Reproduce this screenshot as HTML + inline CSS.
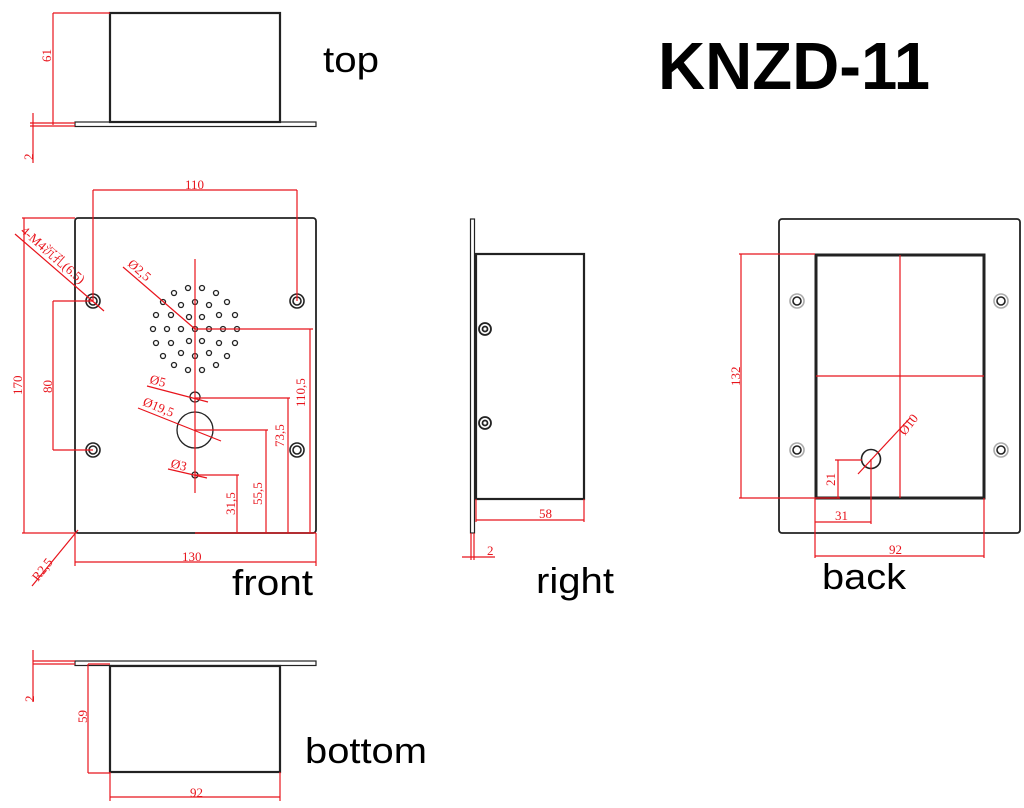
<!DOCTYPE html>
<html><head><meta charset="utf-8"><style>
html,body{margin:0;padding:0;background:#fff;}
svg{display:block;}
.r{stroke:#e8141c;stroke-width:1.2;fill:none;}
.rt{fill:#e8141c;font-family:"Liberation Serif","Noto Serif CJK SC",serif;font-size:13px;}
.k{stroke:#222;fill:none;}
.lbl{font-family:"Liberation Sans",sans-serif;font-size:36px;fill:#000;}
</style></head><body>
<svg width="1024" height="808" viewBox="0 0 1024 808" xmlns="http://www.w3.org/2000/svg">
<!-- TOP VIEW -->
<rect x="110" y="13" width="170" height="109" class="k" stroke-width="2.2"/>
<rect x="75" y="122" width="241" height="4.5" class="k" stroke-width="1.2"/>
<line x1="53" y1="13" x2="53" y2="125" class="r"/>
<line x1="53" y1="13" x2="110" y2="13" class="r"/>
<line x1="30" y1="123" x2="75" y2="123" class="r"/>
<line x1="30" y1="126" x2="75" y2="126" class="r"/>
<line x1="33" y1="113" x2="33" y2="163" class="r"/>
<text class="rt" transform="translate(51,62) rotate(-90)">61</text>
<text class="rt" transform="translate(33,160) rotate(-90)">2</text>
<text class="lbl" x="323" y="72" textLength="56" lengthAdjust="spacingAndGlyphs">top</text>
<text x="658" y="89" font-family="Liberation Sans,sans-serif" font-weight="bold" font-size="67" textLength="272" lengthAdjust="spacingAndGlyphs">KNZD-11</text>

<!-- FRONT VIEW -->
<rect x="75" y="218" width="241" height="315" rx="3" class="k" stroke-width="1.8"/>
<g class="k" stroke-width="1.6">
<circle cx="93" cy="301" r="7"/><circle cx="93" cy="301" r="4"/>
<circle cx="297" cy="301" r="7"/><circle cx="297" cy="301" r="4"/>
<circle cx="93" cy="450" r="7"/><circle cx="93" cy="450" r="4"/>
<circle cx="297" cy="450" r="7"/><circle cx="297" cy="450" r="4"/>
</g>
<g class="k" stroke-width="1.3">
<circle cx="188" cy="288" r="2.5"/><circle cx="202" cy="288" r="2.5"/><circle cx="174" cy="293" r="2.5"/><circle cx="216" cy="293" r="2.5"/>
<circle cx="163" cy="302" r="2.5"/><circle cx="181" cy="305" r="2.5"/><circle cx="195" cy="302" r="2.5"/><circle cx="209" cy="305" r="2.5"/><circle cx="227" cy="302" r="2.5"/>
<circle cx="156" cy="315" r="2.5"/><circle cx="171" cy="315" r="2.5"/><circle cx="189" cy="317" r="2.5"/><circle cx="202" cy="317" r="2.5"/><circle cx="219" cy="315" r="2.5"/><circle cx="235" cy="315" r="2.5"/>
<circle cx="153" cy="329" r="2.5"/><circle cx="167" cy="329" r="2.5"/><circle cx="181" cy="329" r="2.5"/><circle cx="195" cy="329" r="2.5"/><circle cx="209" cy="329" r="2.5"/><circle cx="223" cy="329" r="2.5"/><circle cx="237" cy="329" r="2.5"/>
<circle cx="156" cy="343" r="2.5"/><circle cx="171" cy="343" r="2.5"/><circle cx="189" cy="341" r="2.5"/><circle cx="202" cy="341" r="2.5"/><circle cx="219" cy="343" r="2.5"/><circle cx="235" cy="343" r="2.5"/>
<circle cx="163" cy="356" r="2.5"/><circle cx="181" cy="353" r="2.5"/><circle cx="195" cy="356" r="2.5"/><circle cx="209" cy="353" r="2.5"/><circle cx="227" cy="356" r="2.5"/>
<circle cx="174" cy="365" r="2.5"/><circle cx="216" cy="365" r="2.5"/><circle cx="188" cy="370" r="2.5"/><circle cx="202" cy="370" r="2.5"/>
<circle cx="195" cy="397" r="5"/>
<circle cx="195" cy="430" r="18"/>
<circle cx="195" cy="475" r="3"/>
</g>
<g class="r">
<line x1="93" y1="190" x2="297" y2="190"/><line x1="93" y1="190" x2="93" y2="301"/><line x1="297" y1="190" x2="297" y2="301"/>
<line x1="22" y1="218" x2="75" y2="218"/><line x1="22" y1="533" x2="75" y2="533"/><line x1="24" y1="218" x2="24" y2="533"/>
<line x1="53" y1="301" x2="93" y2="301"/><line x1="53" y1="450" x2="93" y2="450"/><line x1="53" y1="301" x2="53" y2="450"/>
<line x1="195" y1="259" x2="195" y2="493"/>
<line x1="15" y1="234" x2="104" y2="311"/>
<line x1="123" y1="267" x2="195" y2="329"/>
<line x1="195" y1="329" x2="313" y2="329"/><line x1="310" y1="329" x2="310" y2="533"/>
<line x1="147" y1="386" x2="208" y2="402"/>
<line x1="195" y1="398" x2="290" y2="398"/><line x1="288" y1="398" x2="288" y2="533"/>
<line x1="138" y1="408" x2="221" y2="441"/>
<line x1="195" y1="430" x2="268" y2="430"/><line x1="266" y1="430" x2="266" y2="533"/>
<line x1="168" y1="469" x2="207" y2="478"/>
<line x1="195" y1="475" x2="239" y2="475"/><line x1="237" y1="475" x2="237" y2="533"/>
<line x1="195" y1="533" x2="316" y2="533"/>
<line x1="75" y1="533" x2="75" y2="566"/><line x1="316" y1="533" x2="316" y2="566"/><line x1="75" y1="562" x2="316" y2="562"/>
<line x1="78" y1="530" x2="32" y2="586"/>
</g>
<text class="rt" x="185" y="189">110</text>
<text class="rt" transform="translate(22,395) rotate(-90)">170</text>
<text class="rt" transform="translate(52,393) rotate(-90)">80</text>
<text class="rt" transform="translate(20,232) rotate(41)">4-M4沉孔(6.5)</text>
<text class="rt" transform="translate(127,265) rotate(41)">Ø2,5</text>
<text class="rt" transform="translate(149,383) rotate(15)">Ø5</text>
<text class="rt" transform="translate(142,405) rotate(22)">Ø19,5</text>
<text class="rt" transform="translate(170,467) rotate(15)">Ø3</text>
<text class="rt" transform="translate(305,407) rotate(-90)">110,5</text>
<text class="rt" transform="translate(284,447) rotate(-90)">73,5</text>
<text class="rt" transform="translate(262,505) rotate(-90)">55,5</text>
<text class="rt" transform="translate(235,515) rotate(-90)">31,5</text>
<text class="rt" x="182" y="561">130</text>
<text class="rt" transform="translate(38,582) rotate(-52)">R2,5</text>
<text class="lbl" x="232" y="595" textLength="81" lengthAdjust="spacingAndGlyphs">front</text>

<!-- RIGHT VIEW -->
<rect x="470.5" y="219" width="4" height="314" class="k" stroke-width="1.2"/>
<rect x="476" y="254" width="108" height="245" class="k" stroke-width="2.2"/>
<g class="k" stroke-width="1.8"><circle cx="485" cy="329" r="6"/><circle cx="485" cy="329" r="2.5"/><circle cx="485" cy="423" r="6"/><circle cx="485" cy="423" r="2.5"/></g>
<g class="r">
<line x1="476" y1="520" x2="584" y2="520"/><line x1="584" y1="499" x2="584" y2="522"/><line x1="476" y1="499" x2="476" y2="522"/>
<line x1="471" y1="533" x2="471" y2="560"/><line x1="474" y1="533" x2="474" y2="560"/><line x1="462" y1="557" x2="495" y2="557"/>
</g>
<text class="rt" x="539" y="518">58</text>
<text class="rt" x="487" y="555">2</text>
<text class="lbl" x="536" y="593" textLength="78" lengthAdjust="spacingAndGlyphs">right</text>

<!-- BACK VIEW -->
<rect x="779" y="219" width="241" height="314" rx="3" class="k" stroke-width="1.8"/>
<rect x="816" y="255" width="168" height="243" class="k" stroke="#333" stroke-width="3"/>
<g stroke-width="1.6" fill="none">
<circle cx="797" cy="301" r="7" stroke="#aaa"/><circle cx="797" cy="301" r="4" stroke="#222"/>
<circle cx="1001" cy="301" r="7" stroke="#aaa"/><circle cx="1001" cy="301" r="4" stroke="#222"/>
<circle cx="797" cy="450" r="7" stroke="#aaa"/><circle cx="797" cy="450" r="4" stroke="#222"/>
<circle cx="1001" cy="450" r="7" stroke="#aaa"/><circle cx="1001" cy="450" r="4" stroke="#222"/>
</g>
<circle cx="871" cy="459" r="9.5" class="k" stroke-width="1.6"/>
<g class="r">
<line x1="900" y1="255" x2="900" y2="498"/><line x1="816" y1="376" x2="984" y2="376"/>
<line x1="739" y1="254" x2="815" y2="254"/><line x1="739" y1="498" x2="840" y2="498"/><line x1="741" y1="254" x2="741" y2="498"/>
<line x1="858" y1="474" x2="910" y2="418"/>
<line x1="835" y1="460" x2="862" y2="460"/><line x1="838" y1="460" x2="838" y2="498"/>
<line x1="815" y1="498" x2="815" y2="558"/><line x1="984" y1="498" x2="984" y2="558"/>
<line x1="815" y1="522" x2="871" y2="522"/><line x1="871" y1="459" x2="871" y2="524"/>
<line x1="815" y1="556" x2="984" y2="556"/>
</g>
<text class="rt" transform="translate(740,386) rotate(-90)">132</text>
<text class="rt" transform="translate(905,436) rotate(-52)">Ø10</text>
<text class="rt" transform="translate(835,486) rotate(-90)">21</text>
<text class="rt" x="835" y="520">31</text>
<text class="rt" x="889" y="554">92</text>
<text class="lbl" x="822" y="589" textLength="84" lengthAdjust="spacingAndGlyphs">back</text>

<!-- BOTTOM VIEW -->
<rect x="75" y="661" width="241" height="4.5" class="k" stroke-width="1.2"/>
<rect x="110" y="666" width="170" height="106" class="k" stroke-width="2.2"/>
<g class="r">
<line x1="33" y1="650" x2="33" y2="702"/><line x1="33" y1="661" x2="75" y2="661"/><line x1="33" y1="664" x2="75" y2="664"/>
<line x1="88" y1="664" x2="88" y2="773"/><line x1="88" y1="664" x2="110" y2="664"/><line x1="88" y1="773" x2="110" y2="773"/>
<line x1="110" y1="772" x2="110" y2="801"/><line x1="280" y1="772" x2="280" y2="801"/><line x1="110" y1="797" x2="280" y2="797"/>
</g>
<text class="rt" transform="translate(34,702) rotate(-90)">2</text>
<text class="rt" transform="translate(87,723) rotate(-90)">59</text>
<text class="rt" x="190" y="797">92</text>
<text class="lbl" x="305" y="763" textLength="122" lengthAdjust="spacingAndGlyphs">bottom</text>
</svg>
</body></html>
